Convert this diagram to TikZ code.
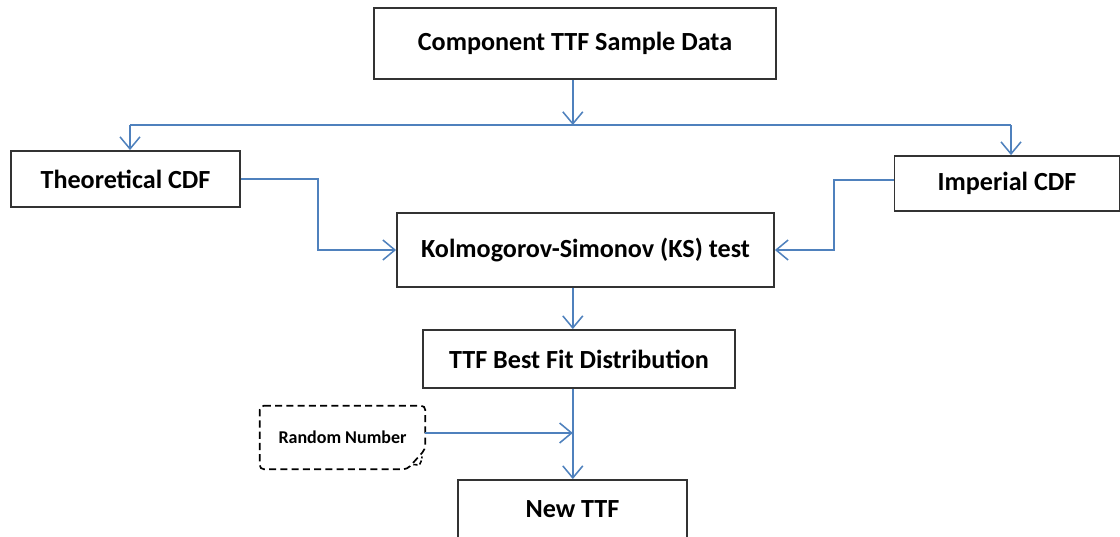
\documentclass[tikz,border=0pt]{standalone}
\usepackage{fontspec}
\setmainfont{Carlito}
\usepackage{tikz}
\usetikzlibrary{calc, arrows.meta}

\begin{document}
\begin{tikzpicture}[
            block/.style={draw=black!80, line width=1.3pt, fill=white, font=\fontsize{18.6}{22}\selectfont\bfseries,
                inner sep=0pt},
            link/.style={draw={rgb,255:red,79;green,129;blue,189}, line width=1.1pt},
            flow/.style={link, -{Straight Barb[length=3mm, width=5mm, line width=1.1pt]}}
        ]

            \useasboundingbox (0,0) rectangle (28,-13.425);

            \pgfmathsetmacro{\trunk}{14.32}
            \pgfmathsetmacro{\split}{-3.125}
            \pgfmathsetmacro{\lx}{3.25}
            \pgfmathsetmacro{\rx}{25.275}

            \node[block, minimum width=10.05cm, minimum height=1.775cm] (comp) at (14.375,-1.0875) {Component TTF Sample Data};
            \node[block, minimum width=5.725cm, minimum height=1.4cm] (theo) at (3.1375,-4.475) {Theoretical CDF};
            \node[block, minimum width=5.625cm, minimum height=1.375cm] (imp) at (25.175,-4.5875) {Imperial CDF};
            \node[block, minimum width=9.425cm, minimum height=1.85cm] (ks) at (14.6375,-6.25) {Kolmogorov-Simonov (KS) test};
            \node[block, minimum width=7.8cm, minimum height=1.45cm] (ttf) at (14.475,-8.975) {TTF Best Fit Distribution};
            \node[block, minimum width=5.725cm, minimum height=1.45cm] (new) at (14.3125,-12.725) {New TTF};
            \node[minimum width=4.125cm, minimum height=1.575cm, font=\fontsize{12.8}{15}\selectfont\bfseries] (rn) at (8.5625,-10.9375) {Random Number};

            \draw[line width=1.2pt, rounded corners=3pt, dash pattern=on 5pt off 3pt]
                (rn.north west) -- (rn.north east) -- ($(rn.south east)+(0,0.5)$)
                -- ($(rn.south east)+(-0.45,0)$) -- (rn.south west) -- cycle;
            \draw[line width=1.1pt, dash pattern=on 3pt off 1.5pt] ($(rn.south east)+(-0.3,0.12)$) .. controls ($(rn.south east)+(-0.12,0.1)$) .. ($(rn.south east)+(-0.08,0.32)$);

            \coordinate (S) at (\trunk,\split);
            \coordinate (SL) at (\lx,\split);
            \coordinate (SR) at (\rx,\split);
            \coordinate (J) at (\trunk,-10.825);

            \draw[flow] (comp.south -| S) -- (S);
            \draw[link] (SL) -- (SR);
            \draw[flow] (SL) -- (theo.north -| SL);
            \draw[flow] (SR) -- (imp.north -| SR);

            \draw[flow] (theo.east) -- (7.95,-4.475) |- (ks.west);
            \draw[flow] (imp.west |- 0,-4.5) -- (20.85,-4.5) |- (ks.east);

            \draw[flow] (ks.south -| S) -- (ttf.north -| S);
            \draw[flow] (ttf.south -| S) -- (new.north -| S);
            \draw[flow] (rn.east |- J) -- (J);

        \end{tikzpicture}
\end{document}
